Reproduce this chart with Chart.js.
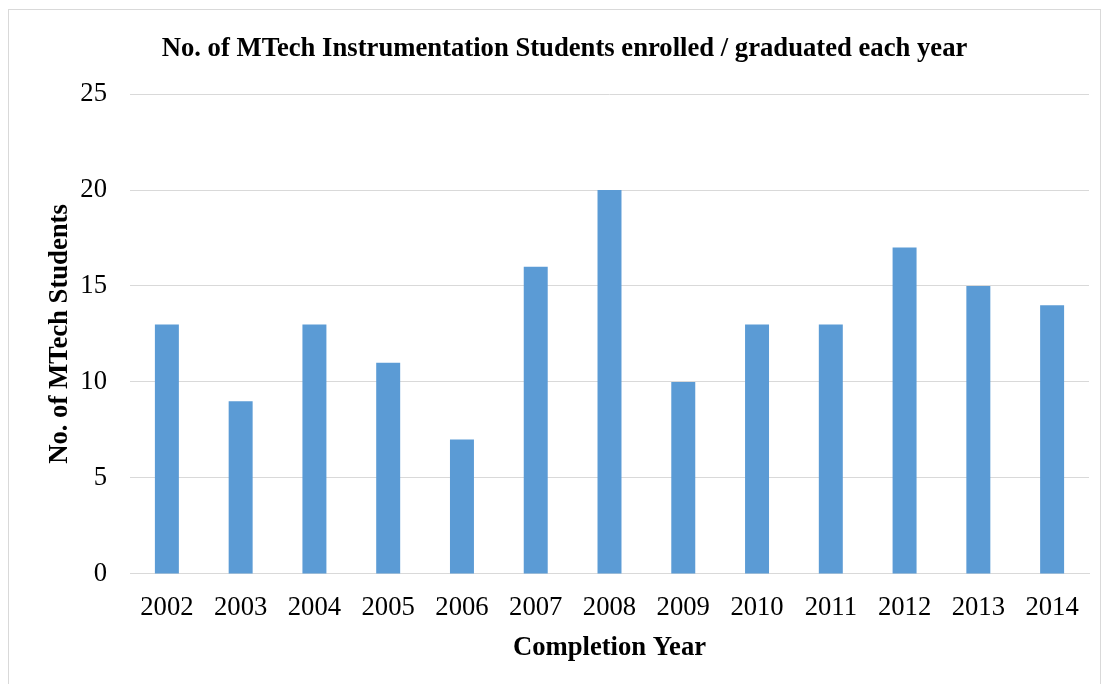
<!DOCTYPE html>
<html>
<head>
<meta charset="utf-8">
<script src="https://cdn.jsdelivr.net/npm/chart.js@4"></script>
<style>
    html, body { margin: 0; padding: 0; background: #fff; }
    #frame {
        position: absolute; left: 8px; top: 9px;
        width: 1093px; height: 700px;
        border: 1px solid #d9d9d9; box-sizing: border-box;
    }
    #wrap { position: absolute; left: 0; top: 0; width: 1110px; height: 684px; }
</style>
</head>
<body>
<div id="frame"></div>
<div id="wrap"><canvas id="mtechChart" width="1110" height="684"></canvas></div>
<script>
// Data
const years = ['2002', '2003', '2004', '2005', '2006', '2007', '2008', '2009', '2010', '2011', '2012', '2013', '2014'];
const students = [13, 9, 13, 11, 7, 16, 20, 10, 13, 13, 17, 15, 14];

const serif = "'Liberation Serif', 'Times New Roman', serif";
const fontSize = 26.67; // 20pt

const ctx = document.getElementById('mtechChart').getContext('2d');
new Chart(ctx, {
    type: 'bar',
    data: {
        labels: years,
        datasets: [{
            label: 'No. of MTech Students',
            data: students,
            backgroundColor: '#5B9BD5',
            borderWidth: 0,
            barPercentage: 0.65,
            categoryPercentage: 0.5
        }]
    },
    options: {
        responsive: false,
        animation: false,
        layout: { padding: { left: 40, right: 21, top: 33, bottom: 20 } },
        plugins: {
            legend: { display: false },
            tooltip: { enabled: false },
            title: {
                display: true,
                text: 'No. of MTech Instrumentation Students enrolled / graduated each year',
                color: '#000',
                font: { family: serif, size: fontSize, weight: 'bold' },
                padding: { top: 0, bottom: 29 }
            }
        },
        scales: {
            x: {
                grid: { display: false },
                border: { color: '#d9d9d9', width: 1 },
                ticks: { color: '#000', font: { family: serif, size: fontSize }, padding: 10, maxRotation: 0 },
                title: {
                    display: true,
                    text: 'Completion Year',
                    color: '#000',
                    font: { family: serif, size: fontSize, weight: 'bold' },
                    padding: { top: -2, bottom: 0 }
                }
            },
            y: {
                min: 0,
                max: 25,
                afterFit: scale => { scale.width = 90; },
                ticks: { stepSize: 5, color: '#000', font: { family: serif, size: fontSize }, padding: 23 },
                grid: { color: '#d9d9d9', drawTicks: false },
                border: { display: false },
                title: {
                    display: true,
                    text: 'No. of MTech Students',
                    color: '#000',
                    font: { family: serif, size: fontSize, weight: 'bold' },
                    padding: { top: 4, bottom: 0 }
                }
            }
        }
    }
});
</script>
</body>
</html>
